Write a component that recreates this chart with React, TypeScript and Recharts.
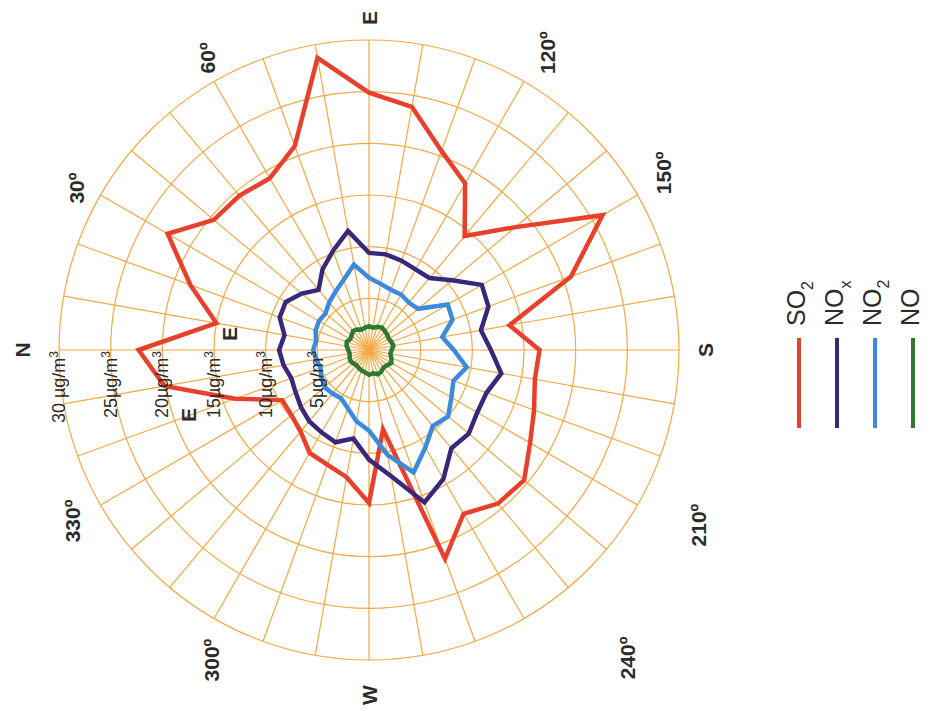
import React from "react";
import {
  RadarChart,
  PolarGrid,
  PolarAngleAxis,
  PolarRadiusAxis,
  Radar,
  Legend,
  Customized,
} from "recharts";

// wind direction sectors, degrees from north
const bearings = [
  0, 10, 20, 30, 40, 50, 60, 70, 80, 90, 100, 110, 120, 130, 140, 150, 160, 170,
  180, 190, 200, 210, 220, 230, 240, 250, 260, 270, 280, 290, 300, 310, 320, 330, 340, 350,
];

// mean concentration per sector, µg/m³
const so2 = [
  22.3, 15.0, 18.4, 22.5, 19.6, 19.5, 19.2, 21.0, 28.7, 24.9, 23.9, 20.5, 18.6, 14.4, 18.5, 26.1, 20.8, 13.8,
  16.5, 16.3, 17.0, 18.0, 19.6, 19.4, 18.3, 21.5, 7.8, 14.8, 12.5, 11.8, 11.5, 10.3, 9.8, 9.7, 13.8, 20.1,
];
const nox = [
  8.7, 8.3, 9.2, 9.3, 8.5, 7.6, 9.0, 10.2, 11.7, 9.4, 9.4, 9.2, 9.0, 9.1, 10.5, 12.6, 12.3, 11.0,
  11.8, 13.0, 12.1, 12.1, 12.6, 12.4, 14.4, 15.7, 12.4, 10.6, 8.7, 9.5, 9.2, 9.0, 8.6, 8.2, 8.0, 8.4,
];
const no2 = [
  5.4, 5.2, 5.5, 5.6, 5.5, 6.0, 6.5, 7.2, 8.4, 7.0, 6.5, 6.2, 6.2, 6.0, 6.2, 8.8, 8.6, 7.2,
  8.2, 9.6, 8.7, 9.2, 10.0, 9.6, 10.9, 12.6, 10.3, 7.8, 7.0, 6.0, 5.4, 5.5, 5.6, 5.3, 5.0, 5.2,
];
const no = [
  2.0, 2.2, 2.3, 2.1, 2.2, 2.4, 2.3, 2.1, 2.2, 2.3, 2.2, 2.4, 2.5, 2.4, 2.3, 2.2, 2.3, 2.4,
  2.2, 2.1, 2.3, 2.5, 2.3, 2.2, 2.4, 2.5, 2.3, 2.4, 2.2, 2.1, 2.0, 1.9, 2.0, 2.1, 2.0, 1.9,
];

const compassBearings = [0, 30, 60, 90, 120, 150, 180, 210, 240, 270, 300, 330];
const compassTexts = ["N", "30º", "60º", "E", "120º", "150º", "S", "210º", "240º", "W", "300º", "330º"];

const ringValues = [0, 5, 10, 15, 20, 25, 30];
const ringTexts = ["", "5", "10", "15", "20", "25", "30 "];

const series = [
  { key: "so2", name: "SO", sub: "2", color: "#e8402b" },
  { key: "nox", name: "NO", sub: "x", color: "#37287a" },
  { key: "no2", name: "NO", sub: "2", color: "#3c8ade" },
  { key: "no", name: "NO", sub: "", color: "#2c7a30" },
];

const data = bearings.map((b, i) => ({
  bearing: b,
  so2: so2[i],
  nox: nox[i],
  no2: no2[i],
  no: no[i],
}));

const CX = 369;
const CY = 350;
const R = 310;
const GRID = "#f6a842";
const INK = "#2b2b2b";
const FONT = "Liberation Sans, Arial, sans-serif";

// hand-placed compass captions: [distance from centre, bearing]
const captionPlace = [
  [347, 0], [334, 29], [334, 61], [332, 90], [347, 121], [344, 149],
  [336, 180], [373, 208], [402, 230], [345, 270], [348, 297], [342, 330],
];

// the rose is laid on its side: north points left, text reads bottom-up
const AngleTick = (props: any) => {
  const { payload } = props;
  const idx = compassBearings.indexOf(payload.value);
  if (idx < 0) return null;
  const [rr, b] = captionPlace[idx];
  const a = (b * Math.PI) / 180;
  const x = CX - rr * Math.cos(a);
  const y = CY - rr * Math.sin(a);
  return (
    <text
      transform={`translate(${x},${y}) rotate(-90)`}
      textAnchor="middle"
      dominantBaseline="central"
      fontFamily={FONT}
      fontWeight="bold"
      fontSize={21}
      fill={INK}
    >
      {compassTexts[idx]}
    </text>
  );
};

const RadiusTick = (props: any) => {
  const { x, y, payload } = props;
  const idx = ringValues.indexOf(payload.value);
  if (idx <= 0) return null;
  return (
    <text
      transform={`translate(${x + 6},${y + 1}) rotate(-90)`}
      textAnchor="end"
      fontFamily={FONT}
      fontSize={18}
      fill={INK}
    >
      {ringTexts[idx]}µg/m
      <tspan dy={-7} fontSize={12}>3</tspan>
    </text>
  );
};

const Marks = () => (
  <g fontFamily={FONT} fontWeight="bold" fontSize={21} fill={INK}>
    <text transform="translate(188,415) rotate(-90)" textAnchor="middle" dominantBaseline="central">E</text>
    <text transform="translate(229,334) rotate(-90)" textAnchor="middle" dominantBaseline="central">E</text>
  </g>
);

const LegendBox = () => (
  <svg width={160} height={180}>
    {series.map((s, i) => {
      const x = 22 + i * 38;
      return (
        <g key={s.key}>
          <text
            transform={`translate(${x + 6},${56}) rotate(-90)`}
            fontFamily={FONT}
            fontSize={25}
            fill={INK}
          >
            {s.name}
            {s.sub && (
              <tspan dy={8} fontSize={16}>
                {s.sub}
              </tspan>
            )}
          </text>
          <line x1={x} x2={x} y1={68} y2={158} stroke={s.color} strokeWidth={4} />
        </g>
      );
    })}
  </svg>
);

export default function App() {
  return (
    <div style={{ position: "absolute", left: 0, top: 0, width: 931, height: 711, background: "#fff" }}>
      <RadarChart
        width={931}
        height={711}
        data={data}
        cx={CX}
        cy={CY}
        outerRadius={R}
        startAngle={180}
        endAngle={-180}
        margin={{ top: 0, right: 0, bottom: 0, left: 0 }}
      >
        <PolarGrid gridType="circle" stroke={GRID} strokeWidth={1.2} />
        <PolarAngleAxis dataKey="bearing" tick={<AngleTick />} axisLine={false} tickLine={false} />
        <PolarRadiusAxis
          angle={180}
          domain={[0, 30]}
          ticks={ringValues as any}
          tick={<RadiusTick />}
          axisLine={false}
          tickLine={false}
        />
        {series.map((s) => (
          <Radar
            key={s.key}
            dataKey={s.key}
            name={s.name + s.sub}
            stroke={s.color}
            strokeWidth={4.5}
            fill="none"
            fillOpacity={0}
            dot={false}
            isAnimationActive={false}
          />
        ))}
        <Customized component={Marks} />
        <Legend
          content={<LegendBox />}
          wrapperStyle={{ position: "absolute", left: 777, top: 270, width: 160, height: 180 }}
        />
      </RadarChart>
    </div>
  );
}
